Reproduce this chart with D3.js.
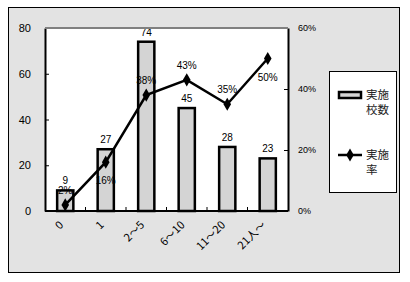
<!DOCTYPE html>
<html><head><meta charset="utf-8">
<script src="https://cdn.jsdelivr.net/npm/d3@7"></script>
<style>
body{margin:0;background:#fff;}
text{font-family:"Liberation Sans",Arial,sans-serif;}
.jp{font-family:"Noto Sans CJK JP",sans-serif;}
</style>
</head><body>
<div id="chart"></div>
<script>
// data
const categories = ["0", "1", "2～5", "6～10", "11～20", "21人～"];
const schools = [9, 27, 74, 45, 28, 23];
const rates = [2, 16, 38, 43, 35, 50];
const leftTicks = [0, 20, 40, 60, 80];
const rightTicks = [0, 20, 40, 60];
const legendNames = [["実施", "校数"], ["実施", "率"]];
// where the % labels sit relative to the point (1 = above, -1 = below)
const rateLabelSide = [1, -1, 1, 1, 1, -1];

const width = 410, height = 282;
const svg = d3.select("#chart").append("svg")
    .attr("width", width).attr("height", height);

// chart frame
svg.append("rect").attr("x", 8.5).attr("y", 7.5).attr("width", 391).attr("height", 265)
    .attr("fill", "#e3e3e3").attr("stroke", "#000").attr("stroke-width", 1);

const plot = {left: 45, right: 288, top: 28, bottom: 211};
svg.append("rect").attr("x", plot.left).attr("y", plot.top)
    .attr("width", plot.right - plot.left).attr("height", plot.bottom - plot.top)
    .attr("fill", "#fff");

const x = d3.scaleBand().domain(categories).range([plot.left, plot.right]);
const y = d3.scaleLinear().domain([0, 80]).range([plot.bottom, plot.top]);
const y2 = d3.scaleLinear().domain([0, 60]).range([plot.bottom, plot.top]);

// bars
const barW = x.bandwidth() * 0.4;
svg.append("g").selectAll("rect")
    .data(schools).enter().append("rect")
    .attr("x", (d, i) => x(categories[i]) + x.bandwidth() / 2 - barW / 2)
    .attr("y", d => y(d))
    .attr("width", barW)
    .attr("height", d => y(0) - y(d))
    .attr("fill", "#d4d4d4").attr("stroke", "#000").attr("stroke-width", 2.5);

svg.append("g").selectAll("text")
    .data(schools).enter().append("text")
    .attr("x", (d, i) => x(categories[i]) + x.bandwidth() / 2)
    .attr("y", d => y(d) - 6)
    .attr("text-anchor", "middle").attr("font-size", 10)
    .text(d => d);

// axes
const axL = svg.append("g").attr("transform", `translate(${plot.left},0)`)
    .call(d3.axisLeft(y).tickValues(leftTicks).tickSizeInner(-4).tickSizeOuter(0).tickPadding(14));
const axR = svg.append("g").attr("transform", `translate(${plot.right},0)`)
    .call(d3.axisRight(y2).tickValues(rightTicks).tickSizeInner(-4).tickSizeOuter(0).tickPadding(10)
        .tickFormat(d => d + "%"));
[axL, axR].forEach(a => {
    a.select(".domain").attr("stroke-width", 2);
    a.selectAll("text").attr("font-size", 11).attr("fill", "#000")
        .style("font-family", "'Liberation Sans',Arial,sans-serif");
});
axR.selectAll("text").attr("font-size", 9);

// top border
svg.append("line").attr("x1", plot.left).attr("x2", plot.right)
    .attr("y1", plot.top).attr("y2", plot.top)
    .attr("stroke", "#808080").attr("stroke-width", 2);

// bottom axis with ticks between categories
const axB = svg.append("g");
axB.append("line").attr("x1", plot.left).attr("x2", plot.right)
    .attr("y1", plot.bottom).attr("y2", plot.bottom)
    .attr("stroke", "#000").attr("stroke-width", 2);
axB.selectAll("line.tk").data(categories.slice(1)).enter().append("line")
    .attr("class", "tk")
    .attr("x1", d => x(d)).attr("x2", d => x(d))
    .attr("y1", plot.bottom).attr("y2", plot.bottom - 4)
    .attr("stroke", "#000");
axB.selectAll("text").data(categories).enter().append("text")
    .attr("class", "jp")
    .attr("transform", d => `translate(${x(d) + x.bandwidth() / 2 - 4},${plot.bottom + 12}) rotate(-45)`)
    .attr("text-anchor", "end").attr("dy", "0.35em").attr("font-size", 11)
    .text(d => d);

// line
const cx = i => x(categories[i]) + x.bandwidth() / 2;
svg.append("path")
    .datum(rates)
    .attr("d", d3.line().x((d, i) => cx(i)).y(d => y2(d)))
    .attr("fill", "none").attr("stroke", "#000").attr("stroke-width", 2.5);
const diamond = d3.symbol().type(d3.symbolDiamond).size(50);
svg.append("g").selectAll("path")
    .data(rates).enter().append("path")
    .attr("transform", (d, i) => `translate(${cx(i)},${y2(d)})`)
    .attr("d", diamond).attr("fill", "#000");
svg.append("g").selectAll("text")
    .data(rates).enter().append("text")
    .attr("x", (d, i) => cx(i))
    .attr("y", (d, i) => y2(d) + (rateLabelSide[i] > 0 ? -11 : 22))
    .attr("text-anchor", "middle").attr("font-size", 10)
    .text(d => d + "%");

// legend
const lg = svg.append("g");
lg.append("rect").attr("x", 329.5).attr("y", 71.5).attr("width", 67).attr("height", 121)
    .attr("fill", "#fff").attr("stroke", "#000");
lg.append("rect").attr("x", 339).attr("y", 92).attr("width", 22).attr("height", 6)
    .attr("fill", "#d4d4d4").attr("stroke", "#000").attr("stroke-width", 2.5);
lg.append("line").attr("x1", 338).attr("x2", 362).attr("y1", 155).attr("y2", 155)
    .attr("stroke", "#000").attr("stroke-width", 2.5);
lg.append("path").attr("transform", "translate(350,155)").attr("d", diamond).attr("fill", "#000");
legendNames.forEach((lines, k) => {
    lines.forEach((t, j) => {
        lg.append("text").attr("class", "jp")
            .attr("x", 366).attr("y", (k === 0 ? 95 : 155) + j * 15)
            .attr("dy", "0.35em").attr("font-size", 11.5).attr("fill", "#222")
            .text(t);
    });
});
</script>
</body></html>
